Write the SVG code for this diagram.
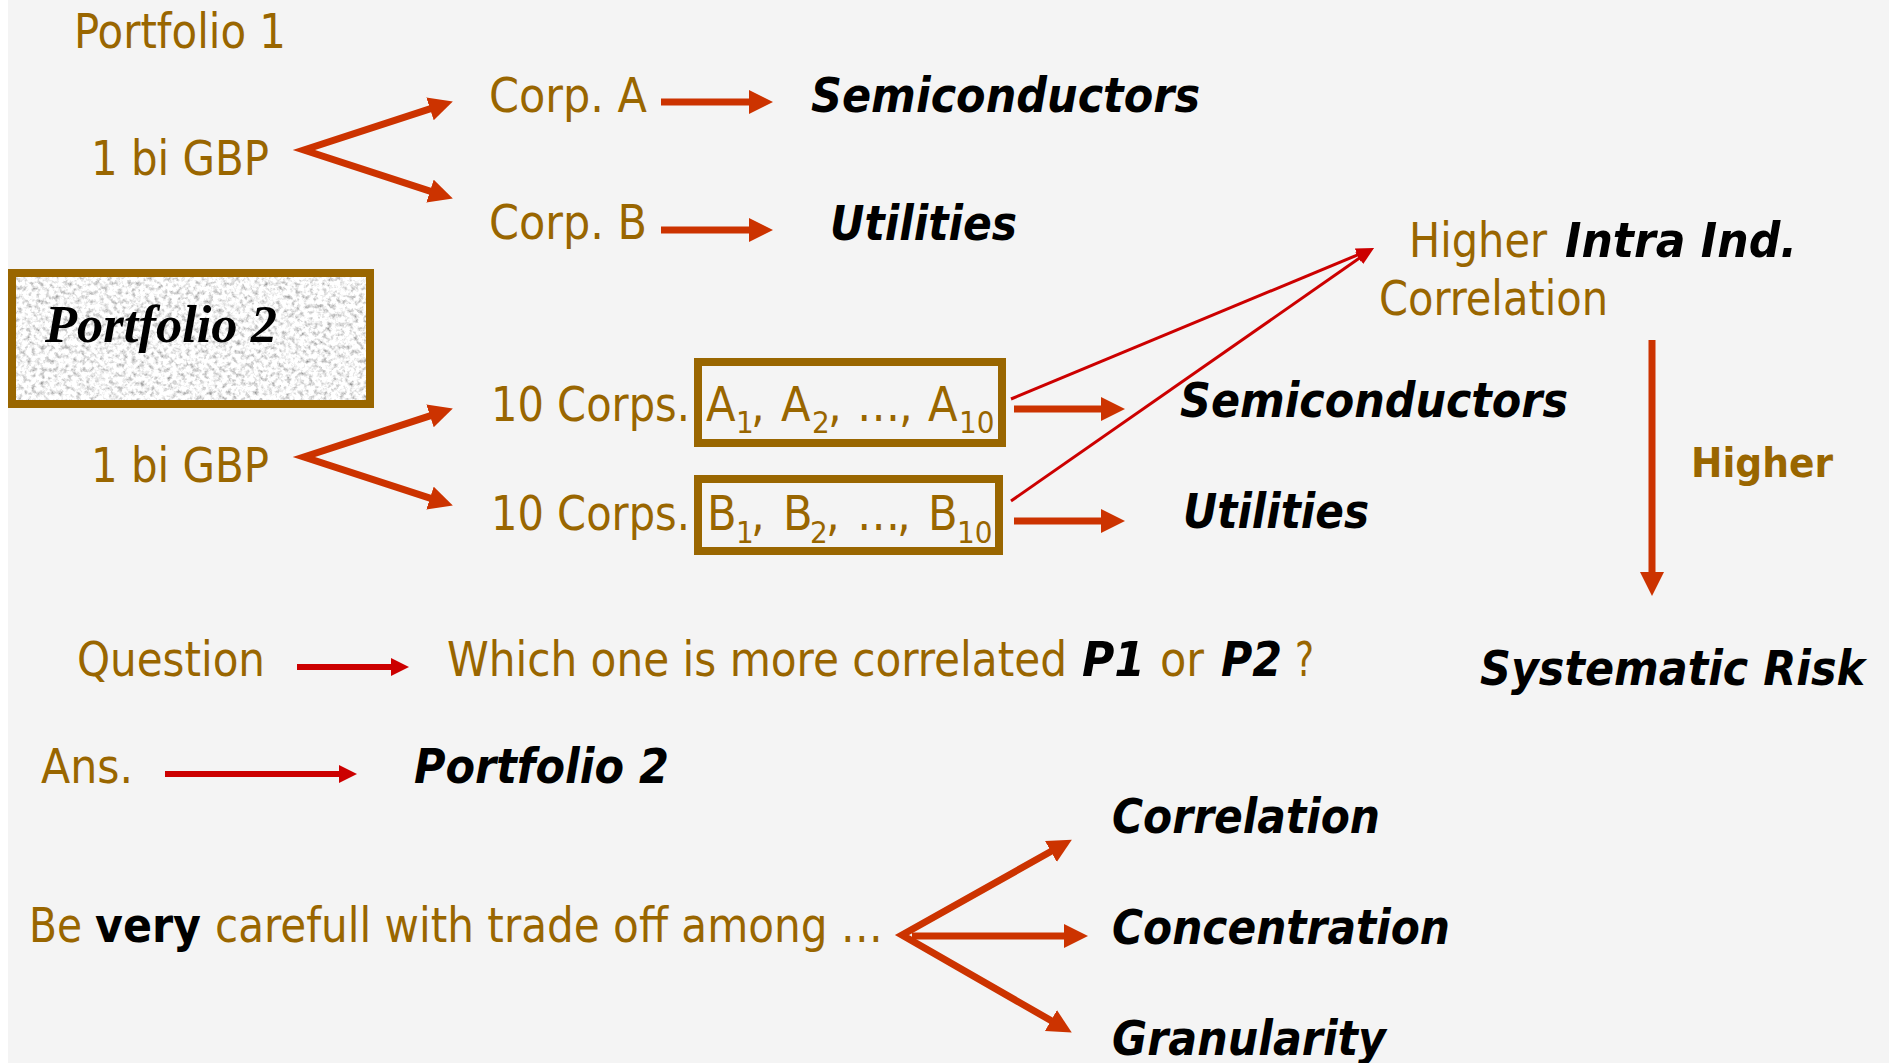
<svg xmlns="http://www.w3.org/2000/svg" width="1889" height="1063" viewBox="0 0 1889 1063">
  <style>
    text { font-family: "DejaVu Sans Condensed", "DejaVu Sans", sans-serif; font-size: 48px; }
    .gold { fill: #996600; }
    .bi { fill: #000; font-weight: bold; font-style: italic; }
    .bk { fill: #000; font-weight: bold; }
    .hb { fill: #996600; font-weight: bold; font-size: 41px; }
    .serif { font-family: "Liberation Serif", "Times New Roman", serif; font-weight: bold; font-style: italic; font-size: 52px; fill: #000; }
    .thick { fill: none; stroke: #cc3300; stroke-width: 7; stroke-linejoin: miter; stroke-miterlimit: 10; }
    .redln { fill: none; stroke: #cc0000; stroke-width: 6; }
    .thin { fill: none; stroke: #cc0000; stroke-width: 3; }
    .frame { fill: none; stroke: #996600; stroke-width: 8; }
  </style>
  <defs>
    <marker id="headThick" markerUnits="userSpaceOnUse" markerWidth="26" markerHeight="26" refX="4" refY="12" orient="auto-start-reverse">
      <path d="M0,0 L24,12 L0,24 z" fill="#cc3300"/>
    </marker>
    <marker id="headRed" markerUnits="userSpaceOnUse" markerWidth="20" markerHeight="20" refX="2" refY="9" orient="auto">
      <path d="M0,0 L18,9 L0,18 z" fill="#cc0000"/>
    </marker>
    <marker id="headThin" markerUnits="userSpaceOnUse" markerWidth="20" markerHeight="16" refX="3" refY="7" orient="auto">
      <path d="M0,0 L18,7 L0,14 z" fill="#cc0000"/>
    </marker>
    <!-- speckled stone fill for the Portfolio 2 title card -->
    <filter id="granite" x="0" y="0" width="1" height="1">
      <feTurbulence type="fractalNoise" baseFrequency="0.22" numOctaves="4" seed="7" result="n"/>
      <feColorMatrix in="n" type="matrix" values="1.5 0 0 0 0.16  1.5 0 0 0 0.16  1.5 0 0 0 0.16  0 0 0 0 1" result="g"/>
      <feComposite in="g" in2="SourceAlpha" operator="in"/>
    </filter>
  </defs>

  <!-- page -->
  <rect x="0" y="0" width="1889" height="1063" fill="#ffffff"/>
  <rect x="8" y="0" width="1881" height="1063" fill="#f4f4f4"/>

  <!-- Portfolio 1 -->
  <g id="portfolio1-title"><text class="gold" x="74" y="48" textLength="212" lengthAdjust="spacingAndGlyphs">Portfolio 1</text></g>
  <g id="p1-amount"><text class="gold" x="91" y="175" textLength="178" lengthAdjust="spacingAndGlyphs">1 bi GBP</text></g>
  <g id="corp-a"><text class="gold" x="489" y="112" textLength="158" lengthAdjust="spacingAndGlyphs">Corp. A</text></g>
  <g id="corp-b"><text class="gold" x="489" y="239" textLength="158" lengthAdjust="spacingAndGlyphs">Corp. B</text></g>
  <g id="p1-semis"><text class="bi" x="811" y="112" textLength="389" lengthAdjust="spacingAndGlyphs">Semiconductors</text></g>
  <g id="p1-utils"><text class="bi" x="830" y="240" textLength="187" lengthAdjust="spacingAndGlyphs">Utilities</text></g>

  <!-- Portfolio 2 -->
  <g id="portfolio2-title">
    <rect x="12" y="273" width="358" height="131" fill="#000" filter="url(#granite)"/>
    <rect class="frame" x="12" y="273" width="358" height="131"/>
    <text class="serif" x="45" y="342" textLength="232" lengthAdjust="spacingAndGlyphs">Portfolio 2</text>
  </g>
  <g id="p2-amount"><text class="gold" x="91" y="482" textLength="178" lengthAdjust="spacingAndGlyphs">1 bi GBP</text></g>
  <g id="corps-a">
    <text class="gold" x="491" y="421" textLength="199" lengthAdjust="spacingAndGlyphs">10 Corps.</text>
    <rect class="frame" x="698" y="362" width="304" height="81"/>
    <text class="gold" y="421"><tspan x="706">A</tspan><tspan x="736" dy="12" font-size="31">1</tspan><tspan x="751" dy="-12">,</tspan><tspan x="781">A</tspan><tspan x="812" dy="12" font-size="31">2</tspan><tspan x="828" dy="-12">,</tspan><tspan x="857">…</tspan><tspan x="899">,</tspan><tspan x="928">A</tspan><tspan x="959" dy="12" font-size="31">10</tspan></text>
  </g>
  <g id="corps-b">
    <text class="gold" x="491" y="530" textLength="199" lengthAdjust="spacingAndGlyphs">10 Corps.</text>
    <rect class="frame" x="698" y="479" width="301" height="72"/>
    <text class="gold" y="530"><tspan x="707">B</tspan><tspan x="736" dy="13" font-size="31">1</tspan><tspan x="751" dy="-13">,</tspan><tspan x="783">B</tspan><tspan x="810" dy="13" font-size="31">2</tspan><tspan x="826" dy="-13">,</tspan><tspan x="857">…</tspan><tspan x="897">,</tspan><tspan x="928">B</tspan><tspan x="957" dy="13" font-size="31">10</tspan></text>
  </g>
  <g id="p2-semis"><text class="bi" x="1180" y="417" textLength="388" lengthAdjust="spacingAndGlyphs">Semiconductors</text></g>
  <g id="p2-utils"><text class="bi" x="1183" y="528" textLength="186" lengthAdjust="spacingAndGlyphs">Utilities</text></g>

  <!-- correlation / risk -->
  <g id="intra-correlation">
    <text class="gold" x="1409" y="257" textLength="138" lengthAdjust="spacingAndGlyphs">Higher</text>
    <text class="bi" x="1565" y="257" textLength="232" lengthAdjust="spacingAndGlyphs">Intra Ind.</text>
    <text class="gold" x="1379" y="315" textLength="229" lengthAdjust="spacingAndGlyphs">Correlation</text>
  </g>
  <g id="higher-label"><text class="hb" x="1691" y="477" textLength="142" lengthAdjust="spacingAndGlyphs">Higher</text></g>
  <g id="systematic-risk"><text class="bi" x="1480" y="685" textLength="385" lengthAdjust="spacingAndGlyphs">Systematic Risk</text></g>

  <!-- question / answer -->
  <g id="question"><text class="gold" x="77" y="676" textLength="188" lengthAdjust="spacingAndGlyphs">Question</text></g>
  <g id="question-text">
    <text class="gold" x="447" y="676" textLength="620" lengthAdjust="spacingAndGlyphs">Which one is more correlated</text>
    <text class="bi" x="1082" y="676" textLength="63" lengthAdjust="spacingAndGlyphs">P1</text>
    <text class="gold" x="1160" y="676" textLength="44" lengthAdjust="spacingAndGlyphs">or</text>
    <text class="bi" x="1221" y="676" textLength="61" lengthAdjust="spacingAndGlyphs">P2</text>
    <text class="gold" x="1295" y="676" textLength="19" lengthAdjust="spacingAndGlyphs">?</text>
  </g>
  <g id="answer"><text class="gold" x="41" y="783" textLength="92" lengthAdjust="spacingAndGlyphs">Ans.</text></g>
  <g id="answer-text"><text class="bi" x="414" y="783" textLength="255" lengthAdjust="spacingAndGlyphs">Portfolio 2</text></g>

  <!-- trade-off -->
  <g id="tradeoff">
    <text class="gold" x="29" y="942" textLength="53" lengthAdjust="spacingAndGlyphs">Be</text>
    <text class="bk" x="95" y="942" textLength="106" lengthAdjust="spacingAndGlyphs">very</text>
    <text class="gold" x="215" y="942" textLength="668" lengthAdjust="spacingAndGlyphs">carefull with trade off among …</text>
  </g>
  <g id="correlation"><text class="bi" x="1112" y="833" textLength="268" lengthAdjust="spacingAndGlyphs">Correlation</text></g>
  <g id="concentration"><text class="bi" x="1112" y="944" textLength="338" lengthAdjust="spacingAndGlyphs">Concentration</text></g>
  <g id="granularity"><text class="bi" x="1112" y="1055" textLength="274" lengthAdjust="spacingAndGlyphs">Granularity</text></g>

  <!-- connectors (fork vertices sit inside the mitred tip) -->
  <g id="connectors">
    <path class="thick" d="M433.8,107.7 L304,150 L433.8,192.3" marker-start="url(#headThick)" marker-end="url(#headThick)"/>
    <line class="thick" x1="661" y1="102" x2="753" y2="102" stroke-width="8" marker-end="url(#headThick)"/>
    <line class="thick" x1="661" y1="230" x2="753" y2="230" stroke-width="8" marker-end="url(#headThick)"/>
    <path class="thick" d="M433.8,414.7 L304,457 L433.8,499.3" marker-start="url(#headThick)" marker-end="url(#headThick)"/>
    <line class="thick" x1="1014" y1="409" x2="1105" y2="409" stroke-width="8" marker-end="url(#headThick)"/>
    <line class="thick" x1="1014" y1="521" x2="1105" y2="521" stroke-width="8" marker-end="url(#headThick)"/>
    <line class="thin" x1="1011" y1="399" x2="1360.2" y2="253.8" marker-end="url(#headThin)"/>
    <line class="thin" x1="1011" y1="501" x2="1361.7" y2="256.6" marker-end="url(#headThin)"/>
    <line class="thick" x1="1652" y1="340" x2="1652" y2="576" stroke-width="6" marker-end="url(#headThick)"/>
    <line class="redln" x1="297" y1="667" x2="393" y2="667" marker-end="url(#headRed)"/>
    <line class="redln" x1="165" y1="774" x2="341" y2="774" marker-end="url(#headRed)"/>
    <path class="thick" d="M1054.4,849.5 L902,935 L1054.4,1022.5" marker-start="url(#headThick)" marker-end="url(#headThick)"/>
    <line class="thick" x1="912" y1="936" x2="1068" y2="936" marker-end="url(#headThick)"/>
  </g>
</svg>
